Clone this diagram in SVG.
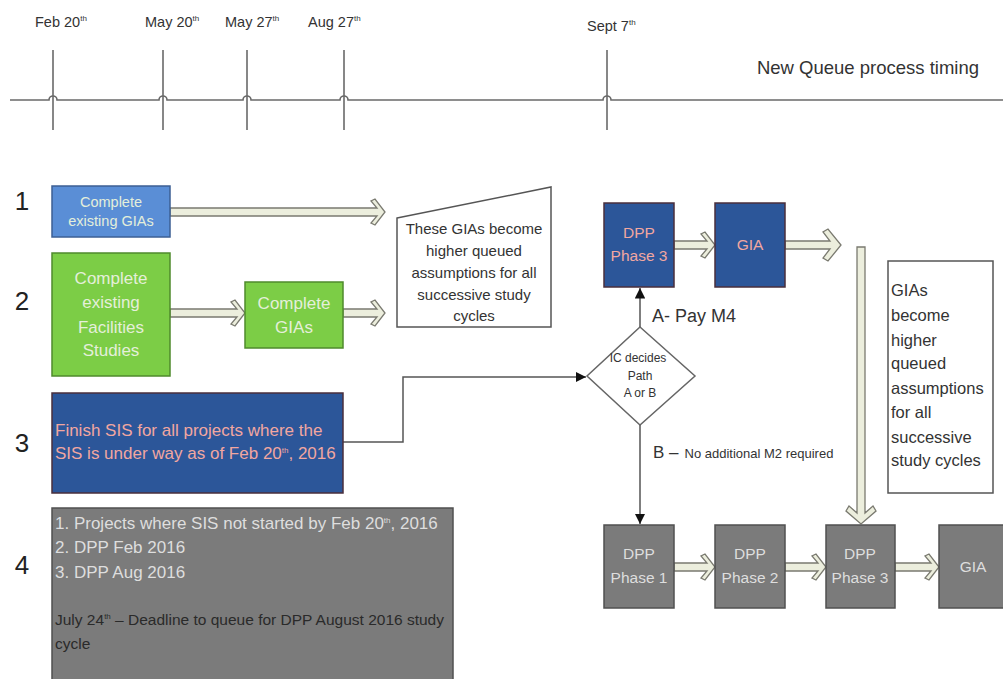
<svg xmlns="http://www.w3.org/2000/svg" width="1003" height="679" viewBox="0 0 1003 679">
  <style>
    text { font-family: "Liberation Sans", Arial, sans-serif; }
    .tl { fill: none; stroke: #6a6a6a; stroke-width: 1.6; }
    .date { font-size: 14.5px; fill: #333; }
    .sup { font-size: 8px; }
    .num { font-size: 26px; fill: #222; text-anchor: middle; }
    .dbl { fill: #eceedd; stroke: #7a7a70; stroke-width: 1.3; stroke-linejoin: miter; }
    .conn { fill: none; stroke: #555; stroke-width: 1.5; }
    .lblue { fill: #5a8ed6; stroke: #3d5f94; stroke-width: 1.5; }
    .green { fill: #7ccd46; stroke: #4f8a2c; stroke-width: 1.5; }
    .dblue { fill: #2c5699; stroke: #4a2f3c; stroke-width: 1.5; }
    .grey { fill: #7b7b7b; stroke: #505050; stroke-width: 1.5; }
    .note { fill: #fff; stroke: #555; stroke-width: 1.5; }
    .wt { fill: #e4efda; text-anchor: middle; }
    .pk { fill: #f2a7a0; }
    .gt { fill: #dedede; }
    .box { font-size: 15.5px; text-anchor: middle; }
  </style>
  <defs>
    <marker id="tri" viewBox="0 0 10 10" refX="10" refY="5" markerWidth="7" markerHeight="7" orient="auto">
      <path d="M0,0 L10,5 L0,10 z" fill="#111"/>
    </marker>
  </defs>

  <!-- timeline -->
  <g id="timeline">
    <path class="tl" d="M10,100 H49 a4,4 0 0 1 8,0 H159 a4,4 0 0 1 8,0 H243 a4,4 0 0 1 8,0 H340 a4,4 0 0 1 8,0 H603 a4,4 0 0 1 8,0 H1003"/>
    <path class="tl" d="M53,50 V130 M163,50 V130 M247,50 V130 M344,50 V130 M607,50 V130"/>
    <text class="date" x="35" y="27">Feb 20<tspan class="sup" dy="-6">th</tspan></text>
    <text class="date" x="145" y="27">May 20<tspan class="sup" dy="-6">th</tspan></text>
    <text class="date" x="225" y="27">May 27<tspan class="sup" dy="-6">th</tspan></text>
    <text class="date" x="308" y="27">Aug 27<tspan class="sup" dy="-6">th</tspan></text>
    <text class="date" x="587" y="31">Sept 7<tspan class="sup" dy="-6">th</tspan></text>
    <text x="979" y="74" font-size="18.5" fill="#333" text-anchor="end">New Queue process timing</text>
  </g>

  <!-- row numbers -->
  <g id="rows">
    <text class="num" x="22" y="210">1</text>
    <text class="num" x="22" y="310">2</text>
    <text class="num" x="22" y="452">3</text>
    <text class="num" x="22" y="574">4</text>
  </g>

  <!-- connectors -->
  <g id="connectors">
    <polygon class="dbl" points="170,208 377,208 371,201 375,199 385,212 375,225 371,223 377,216 170,216"/>
    <polygon class="dbl" points="170,309 237,309 231,302 235,300 245,313 235,326 231,324 237,317 170,317"/>
    <polygon class="dbl" points="343,309 377,309 371,302 375,300 385,313 375,326 371,324 377,317 343,317"/>
    <polygon class="dbl" points="674,241 707,241 701,234 705,232 715,245 705,258 701,256 707,249 674,249"/>
    <polygon class="dbl" points="785,241 830,241 823,232 828,229 841,245 828,261 823,258 830,249 785,249"/>
    <polygon class="dbl" points="857,247 857,513 849,506 846,511 861,524 876,511 873,506 865,513 865,247"/>
    <polygon class="dbl" points="674,563 707,563 701,556 705,554 715,567 705,580 701,578 707,571 674,571"/>
    <polygon class="dbl" points="785,563 818,563 812,556 816,554 826,567 816,580 812,578 818,571 785,571"/>
    <polygon class="dbl" points="895,563 931,563 925,556 929,554 939,567 929,580 925,578 931,571 895,571"/>
    <path class="conn" d="M343,442 H403 V377 H586" marker-end="url(#tri)"/>
    <path class="conn" d="M640,327 V288" marker-end="url(#tri)"/>
    <path class="conn" d="M640,425 V524" marker-end="url(#tri)"/>
  </g>

  <g id="existing-gias">
    <rect class="lblue" x="52" y="186" width="118" height="51"/>
    <text class="wt" font-size="14.5" x="111" y="207">Complete</text>
    <text class="wt" font-size="14.5" x="111" y="226">existing GIAs</text>
  </g>

  <g id="facilities-studies">
    <rect class="green" x="52" y="253" width="118" height="123"/>
    <text class="wt" font-size="17" x="111" y="284">Complete</text>
    <text class="wt" font-size="17" x="111" y="308">existing</text>
    <text class="wt" font-size="17" x="111" y="333">Facilities</text>
    <text class="wt" font-size="17" x="111" y="356">Studies</text>
  </g>

  <g id="complete-gias">
    <rect class="green" x="245" y="282" width="98" height="66"/>
    <text class="wt" font-size="17" x="294" y="309">Complete</text>
    <text class="wt" font-size="17" x="294" y="333">GIAs</text>
  </g>

  <g id="queued-note">
    <polygon class="note" points="397,218 551,187 551,327 397,327"/>
    <g font-size="15" fill="#333" text-anchor="middle">
      <text x="474" y="234">These GIAs become</text>
      <text x="474" y="256">higher queued</text>
      <text x="474" y="278">assumptions for all</text>
      <text x="474" y="300">successive study</text>
      <text x="474" y="321">cycles</text>
    </g>
  </g>

  <g id="sis-underway">
    <rect class="dblue" x="52" y="393" width="291" height="100"/>
    <text class="pk" font-size="17" x="55" y="436">Finish SIS for all projects where the</text>
    <text class="pk" font-size="17" x="55" y="459">SIS is under way as of Feb 20<tspan class="sup" dy="-6">th</tspan><tspan dy="6">, 2016</tspan></text>
  </g>

  <g id="not-started">
    <rect class="grey" x="52" y="508" width="401" height="190"/>
    <text class="gt" font-size="17" x="55" y="529">1. Projects where SIS not started by Feb 20<tspan class="sup" dy="-6">th</tspan><tspan dy="6">, 2016</tspan></text>
    <text class="gt" font-size="17" x="55" y="553">2. DPP Feb 2016</text>
    <text class="gt" font-size="17" x="55" y="578">3. DPP Aug 2016</text>
    <text fill="#2a2a2a" font-size="15.5" x="55" y="625">July 24<tspan class="sup" dy="-6">th</tspan><tspan dy="6"> – Deadline to queue for DPP August 2016 study</tspan></text>
    <text fill="#2a2a2a" font-size="15.5" x="55" y="649">cycle</text>
  </g>

  <g id="dpp3-a">
    <rect class="dblue" x="604" y="203" width="70" height="84"/>
    <text class="pk box" x="639" y="238">DPP</text>
    <text class="pk box" x="639" y="261">Phase 3</text>
  </g>

  <g id="gia-a">
    <rect class="dblue" x="715" y="203" width="70" height="84"/>
    <text class="pk box" x="750" y="250">GIA</text>
  </g>

  <g id="decision">
    <polygon fill="#fff" stroke="#666" stroke-width="1.5" points="640,327 695,376 640,425 587,376"/>
    <g font-size="12" fill="#333" text-anchor="middle">
      <text x="638" y="362">IC decides</text>
      <text x="640" y="380">Path</text>
      <text x="640" y="397">A or B</text>
    </g>
  </g>

  <g id="path-labels">
    <text x="652" y="322" font-size="18" fill="#333">A- Pay M4</text>
    <text x="653" y="458" font-size="17" fill="#333">B –<tspan font-size="13" dx="6">No additional M2 required</tspan></text>
  </g>

  <g id="gias-note">
    <rect class="note" x="888" y="261" width="105" height="232"/>
    <g font-size="16.5" fill="#333">
      <text x="891" y="296">GIAs</text>
      <text x="891" y="321">become</text>
      <text x="891" y="346">higher</text>
      <text x="891" y="369">queued</text>
      <text x="891" y="394">assumptions</text>
      <text x="891" y="418">for all</text>
      <text x="891" y="443">successive</text>
      <text x="891" y="466">study cycles</text>
    </g>
  </g>

  <g id="dpp1-b">
    <rect class="grey" x="604" y="525" width="70" height="83"/>
    <text class="gt box" x="639" y="559">DPP</text>
    <text class="gt box" x="639" y="583">Phase 1</text>
  </g>
  <g id="dpp2-b">
    <rect class="grey" x="715" y="525" width="70" height="83"/>
    <text class="gt box" x="750" y="559">DPP</text>
    <text class="gt box" x="750" y="583">Phase 2</text>
  </g>
  <g id="dpp3-b">
    <rect class="grey" x="826" y="525" width="69" height="83"/>
    <text class="gt box" x="860" y="559">DPP</text>
    <text class="gt box" x="860" y="583">Phase 3</text>
  </g>
  <g id="gia-b">
    <rect class="grey" x="939" y="525" width="80" height="83"/>
    <text class="gt box" x="973" y="572">GIA</text>
  </g>
</svg>
